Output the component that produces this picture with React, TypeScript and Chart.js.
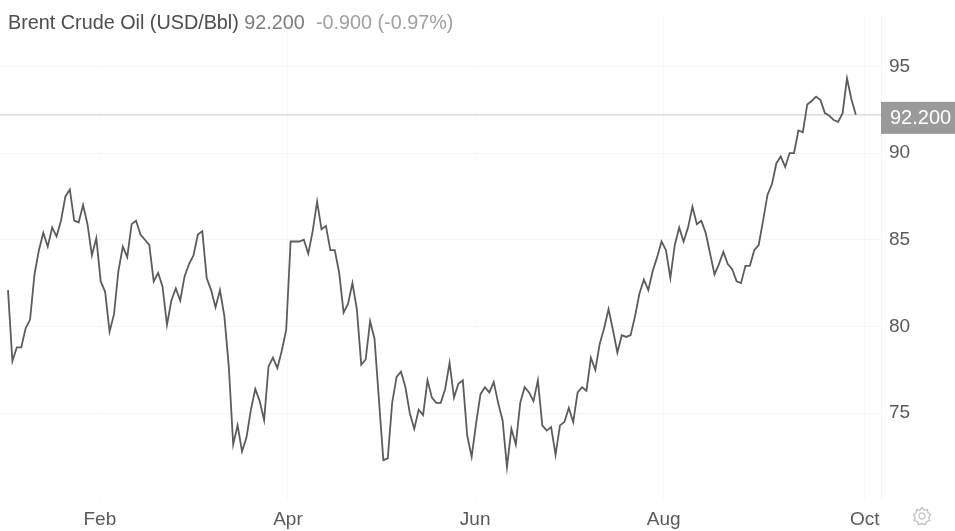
import React, { useEffect, useRef } from "react";
import { Chart, registerables } from "chart.js";

Chart.register(...registerables);

const FONT = '"Liberation Sans", Arial, sans-serif';

const seriesName = "Brent Crude Oil (USD/Bbl)";
const lastText = "92.200";
const changeText = "-0.900 (-0.97%)";
const lastValue = 92.2;

const prices = [
  82.1, 78.0, 78.8, 78.8, 79.9, 80.4, 83.0, 84.4, 85.4, 84.6,
  85.7, 85.2, 86.1, 87.5, 87.9, 86.1, 86.0, 87.0, 85.9, 84.1,
  85.1, 82.6, 82.0, 79.7, 80.7, 83.2, 84.6, 84.0, 85.9, 86.1,
  85.3, 85.0, 84.7, 82.6, 83.1, 82.3, 80.1, 81.5, 82.2, 81.5,
  82.9, 83.6, 84.1, 85.3, 85.5, 82.8, 82.1, 81.1, 82.1, 80.6,
  77.7, 73.2, 74.3, 72.8, 73.6, 75.2, 76.4, 75.7, 74.6, 77.7,
  78.2, 77.6, 78.6, 79.8, 84.9, 84.9, 84.9, 85.0, 84.2, 85.5,
  87.2, 85.6, 85.8, 84.4, 84.4, 83.1, 80.8, 81.3, 82.5, 81.0,
  77.8, 78.1, 80.3, 79.3, 75.8, 72.3, 72.4, 75.6, 77.1, 77.4,
  76.5, 75.0, 74.1, 75.2, 74.9, 76.9, 75.9, 75.6, 75.6, 76.4,
  77.9, 75.9, 76.7, 76.9, 73.7, 72.5, 74.4, 76.1, 76.5, 76.2,
  76.8, 75.6, 74.6, 71.9, 74.1, 73.2, 75.6, 76.5, 76.2, 75.7,
  76.9, 74.3, 74.0, 74.2, 72.6, 74.3, 74.5, 75.3, 74.5, 76.2,
  76.5, 76.3, 78.2, 77.5, 79.0, 79.9, 81.0, 79.8, 78.5, 79.5,
  79.4, 79.5, 80.6, 81.9, 82.7, 82.1, 83.2, 84.0, 84.9, 84.4,
  82.8, 84.7, 85.7, 84.9, 85.7, 86.9, 85.9, 86.1, 85.4, 84.2,
  83.0, 83.6, 84.3, 83.6, 83.3, 82.6, 82.5, 83.5, 83.5, 84.4,
  84.7, 86.1, 87.6, 88.2, 89.4, 89.8, 89.2, 90.0, 90.0, 91.3,
  91.2, 92.8, 93.0, 93.25, 93.05, 92.3, 92.15, 91.9, 91.8, 92.3,
  94.3, 93.1, 92.2,
];
const sessions = prices.map((_, i) => i);

const monthLabels = ["Feb", "Apr", "Jun", "Aug", "Oct"];
const monthSessions = [20.8, 63.4, 105.8, 148.5, 194];
const priceTicks = [75, 80, 85, 90, 95];

const lastPricePlugin = {
  id: "lastPrice",
  beforeDatasetsDraw(chart: any) {
    const { ctx, chartArea, scales } = chart;
    const y = scales.y.getPixelForValue(lastValue);
    ctx.save();
    ctx.strokeStyle = "#dcdcdc";
    ctx.lineWidth = 1.5;
    ctx.beginPath();
    ctx.moveTo(chartArea.left, y);
    ctx.lineTo(chartArea.right, y);
    ctx.stroke();
    ctx.restore();
  },
  afterDraw(chart: any) {
    const { ctx, chartArea, scales, width } = chart;
    const y = scales.y.getPixelForValue(lastValue);
    ctx.save();
    ctx.fillStyle = "#9a9a9a";
    ctx.fillRect(chartArea.right, y - 13, width - chartArea.right, 32);
    ctx.fillStyle = "#ffffff";
    ctx.font = `20px ${FONT}`;
    ctx.textAlign = "left";
    ctx.textBaseline = "middle";
    ctx.fillText(lastText, chartArea.right + 9, y + 4);
    ctx.restore();
  },
};

export default function App() {
  const ref = useRef<HTMLCanvasElement>(null);

  useEffect(() => {
    const chart = new Chart(ref.current!, {
      type: "line",
      data: {
        datasets: [
          {
            data: sessions.map((s, i) => ({ x: s, y: prices[i] })),
            borderColor: "#5c5c5c",
            borderWidth: 1.8,
            pointRadius: 0,
            tension: 0,
          },
        ],
      },
      plugins: [lastPricePlugin],
      options: {
        animation: false,
        responsive: false,
        parsing: false,
        layout: { padding: { top: 14.25, left: 0, right: 0, bottom: 0 } },
        plugins: { legend: { display: false }, tooltip: { enabled: false }, title: { display: false } },
        scales: {
          x: {
            type: "linear",
            min: -1.81,
            max: 197.7,
            afterBuildTicks(axis: any) {
              axis.ticks = monthSessions.map((value) => ({ value }));
            },
            afterFit(axis: any) {
              axis.height = 31;
              axis.paddingLeft = 0;
              axis.paddingRight = 0;
            },
            grid: { color: "#f8f8f8", drawTicks: false },
            border: { display: false },
            ticks: {
              autoSkip: false,
              maxRotation: 0,
              padding: 8,
              color: "#5a5a5a",
              font: { family: FONT, size: 19 },
              callback: (v: any) => monthLabels[monthSessions.indexOf(Number(v))] ?? "",
            },
          },
          y: {
            position: "right",
            min: 70,
            max: 98,
            afterBuildTicks(axis: any) {
              axis.ticks = priceTicks.map((value) => ({ value }));
            },
            afterFit(axis: any) {
              axis.width = 74;
              axis.paddingTop = 0;
              axis.paddingBottom = 0;
            },
            grid: { color: "#f5f5f5", drawTicks: false },
            border: { color: "#f5f5f5" },
            ticks: {
              padding: 8,
              color: "#5a5a5a",
              font: { family: FONT, size: 19 },
            },
          },
        },
      },
    } as any);
    return () => chart.destroy();
  }, []);

  return (
    <div style={{ position: "absolute", left: 0, top: 0, width: 955, height: 531, background: "#fff" }}>
      <canvas ref={ref} width={955} height={531} style={{ display: "block" }} />
      <div
        style={{
          position: "absolute",
          left: 8,
          top: 11,
          font: `19.8px ${FONT}`,
          whiteSpace: "pre",
          lineHeight: "22px",
        }}
      >
        <span style={{ color: "#4d4d4d" }}>{seriesName} </span>
        <span style={{ color: "#7d7d7d" }}>{lastText}  </span>
        <span style={{ color: "#a0a0a0" }}>{changeText}</span>
      </div>
      <svg
        width="20"
        height="20"
        viewBox="0 0 20 20"
        style={{ position: "absolute", left: 912, top: 506 }}
        role="img"
        aria-label="settings"
      >
        <path
          d="M10 1.5l2 2.6 3.2-.6.7 3.2 2.6 2-1.7 2.8 1 3.1-3.1 1-1.4 3-3.3-1-3.3 1-1.4-3-3.1-1 1-3.1L1.5 8.7l2.6-2 .7-3.2 3.2.6z"
          fill="none"
          stroke="#c4c4c4"
          strokeWidth="1.4"
        />
        <circle cx="10" cy="10" r="3" fill="none" stroke="#cccccc" strokeWidth="1.4" />
      </svg>
    </div>
  );
}
